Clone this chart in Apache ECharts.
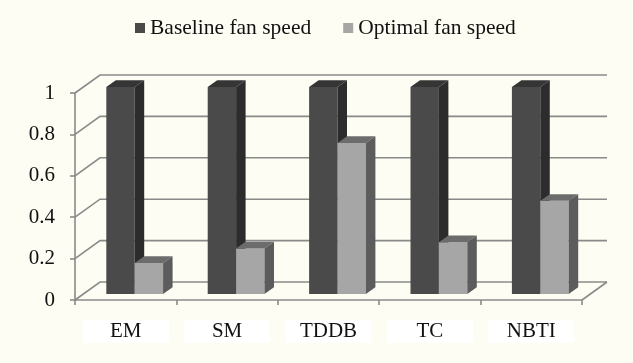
<!DOCTYPE html>
<html>
<head>
<meta charset="utf-8">
<script src="https://cdn.jsdelivr.net/npm/echarts@6/dist/echarts.min.js"></script>
<style>
  html, body { margin: 0; padding: 0; background: #fdfdf3; }
  #chart { width: 633px; height: 363px; }
</style>
</head>
<body>
<div id="chart"></div>
<script>
// Failure mechanisms on the category axis
const categories = ['EM', 'SM', 'TDDB', 'TC', 'NBTI'];
// Normalised values per fan-speed policy
const baselineValues = [1, 1, 1, 1, 1];
const optimalValues = [0.15, 0.22, 0.73, 0.25, 0.45];
// Value-axis ticks (also the rows of the wall grid)
const yTicks = [0, 0.2, 0.4, 0.6, 0.8, 1];

const FONT = '"Liberation Serif", "DejaVu Serif", serif';
const LINE = '#8a8a8a';

// Depth of the box (front plane -> back wall)
const WALL_DX = 25, WALL_DY = -18;
// Bars sit a little behind the front plane and have their own depth
const BAR_SHIFT_X = 9, BAR_SHIFT_Y = -6;
const BAR_DX = 9.5, BAR_DY = -6.7;

function wallRenderer(params, api) {
  const cs = params.coordSys;
  const v = api.value(1);
  const p = api.coord([0, v]);
  const x0 = cs.x, x1 = cs.x + cs.width;
  const y = p[1];
  const children = [{
    type: 'polyline',
    shape: { points: [[x0, y], [x0 + WALL_DX, y + WALL_DY], [x1 + WALL_DX, y + WALL_DY]] },
    style: { stroke: LINE, lineWidth: 1.6, fill: null }
  }];
  if (v === 0) {
    children.push({
      type: 'line',
      shape: { x1: x1, y1: y, x2: x1 + WALL_DX, y2: y + WALL_DY },
      style: { stroke: LINE, lineWidth: 1.6 }
    });
  }
  return { type: 'group', children: children };
}

function barRenderer(slot, colors) {
  return function (params, api) {
    const idx = api.value(0);
    const val = api.value(1);
    const base = api.coord([idx, 0]);
    const top = api.coord([idx, val]);
    const band = api.size([1, 0])[0];
    const w = band * 0.28;
    const x0 = base[0] + BAR_SHIFT_X + (slot === 0 ? -w : 0);
    const x1 = x0 + w;
    const yb = base[1] + BAR_SHIFT_Y;
    const yt = top[1] + BAR_SHIFT_Y;
    return {
      type: 'group',
      children: [
        { type: 'polygon', shape: { points: [[x0, yb], [x1, yb], [x1, yt], [x0, yt]] },
          style: { fill: colors.front } },
        { type: 'polygon', shape: { points: [[x0, yt], [x1, yt], [x1 + BAR_DX, yt + BAR_DY], [x0 + BAR_DX, yt + BAR_DY]] },
          style: { fill: colors.top } },
        { type: 'polygon', shape: { points: [[x1, yb], [x1 + BAR_DX, yb + BAR_DY], [x1 + BAR_DX, yt + BAR_DY], [x1, yt]] },
          style: { fill: colors.side } }
      ]
    };
  };
}

const baselineColors = { front: '#4a4a4a', top: '#353535', side: '#2c2c2c' };
const optimalColors = { front: '#a6a6a6', top: '#6c6c6c', side: '#5c5c5c' };

const chart = echarts.init(document.getElementById('chart'));
chart.setOption({
  backgroundColor: '#fdfdf3',
  animation: false,
  legend: {
    data: ['Baseline fan speed', 'Optimal fan speed'],
    left: 130,
    top: 12,
    icon: 'rect',
    itemWidth: 10,
    itemHeight: 10,
    itemGap: 32,
    textStyle: { fontFamily: FONT, fontSize: 21.5, color: '#111' }
  },
  grid: { left: 75, top: 93, right: 51, bottom: 63, containLabel: false },
  xAxis: {
    type: 'category',
    data: categories,
    axisLine: { lineStyle: { color: LINE, width: 1.6 } },
    axisTick: { show: true, length: 5, lineStyle: { color: LINE, width: 1.6 } },
    axisLabel: {
      margin: 20,
      fontFamily: FONT,
      fontSize: 21,
      color: '#111',
      backgroundColor: '#ffffff',
      width: 86,
      height: 23,
      lineHeight: 23,
      align: 'center'
    },
    splitLine: { show: false }
  },
  yAxis: {
    type: 'value',
    min: 0,
    max: 1,
    interval: 0.2,
    axisLine: { show: true, lineStyle: { color: LINE, width: 1.6 } },
    axisTick: { show: true, length: 5, lineStyle: { color: LINE, width: 1.6 } },
    axisLabel: { margin: 20, fontFamily: FONT, fontSize: 21, color: '#111' },
    splitLine: { show: false }
  },
  series: [
    {
      name: 'walls',
      type: 'custom',
      renderItem: wallRenderer,
      data: yTicks.map(function (v) { return [0, v]; }),
      encode: { x: 0, y: 1 },
      silent: true,
      z: 1
    },
    {
      name: 'Baseline fan speed',
      type: 'custom',
      renderItem: barRenderer(0, baselineColors),
      itemStyle: { color: baselineColors.front },
      data: baselineValues.map(function (v, i) { return [i, v]; }),
      encode: { x: 0, y: 1 },
      z: 2
    },
    {
      name: 'Optimal fan speed',
      type: 'custom',
      renderItem: barRenderer(1, optimalColors),
      itemStyle: { color: optimalColors.front },
      data: optimalValues.map(function (v, i) { return [i, v]; }),
      encode: { x: 0, y: 1 },
      z: 3
    }
  ]
});
</script>
</body>
</html>
